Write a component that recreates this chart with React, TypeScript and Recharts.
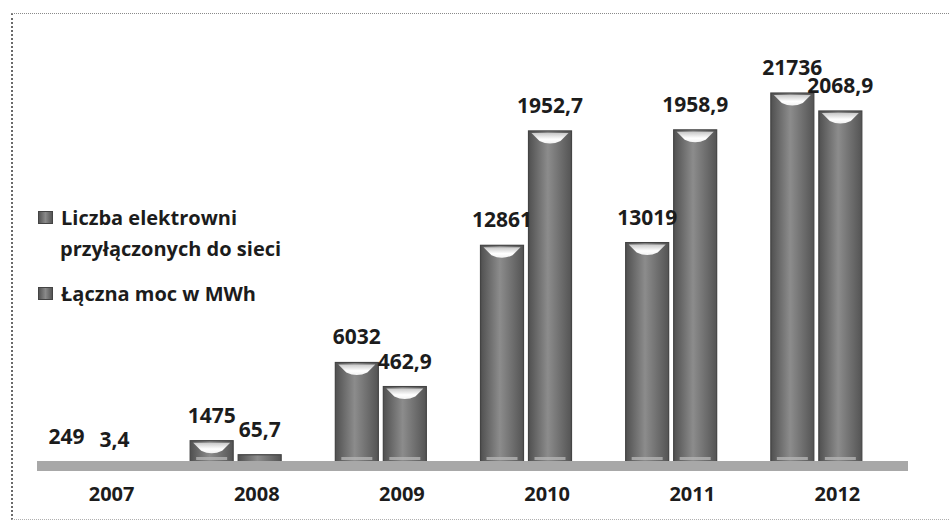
import { BarChart, Bar, XAxis, YAxis, LabelList } from 'recharts';

const years = ['2007', '2008', '2009', '2010', '2011', '2012'];
const liczbaElektrowni = [249, 1475, 6032, 12861, 13019, 21736];
const lacznaMoc = [3.4, 65.7, 462.9, 1952.7, 1958.9, 2068.9];
const legendFirst = ['Liczba elektrowni', 'przyłączonych do sieci'];
const legendSecond = ['Łączna moc w MWh'];

const data = years.map((year, i) => ({
  year,
  liczba: liczbaElektrowni[i],
  moc: lacznaMoc[i],
}));

const FONT = '"Open Sans", sans-serif';
const TEXT = '#1c1c1c';
// bars in the scan sit a little left of their category (3D perspective)
const SHIFT = -19;
const FLOOR = 4;

const fmt = (v: number) => String(v).replace('.', ',');

function CylinderBar(props: any) {
  const { x, y, width, height } = props;
  const h = height - FLOOR;
  if (h <= 0) return null;
  const left = x + SHIFT;
  const w = width;
  const cap = Math.min(13, h);
  return (
    <g>
      <rect x={left} y={y} width={w} height={h} fill="url(#barBody)" stroke="#444" strokeWidth={1.2} />
      {h > 8 && (
        <path
          d={`M${left + 3},${y + 2} L${left + w - 3},${y + 2} L${left + w - 11},${y + cap - 3} Q${left + w / 2},${y + cap + 2} ${left + 11},${y + cap - 3} Z`}
          fill="url(#barCap)"
        />
      )}
      {h > 14 && <rect x={left + 6} y={y + h - 5} width={w - 12} height={3} fill="#b4b4b4" opacity={0.8} />}
    </g>
  );
}

function ValueLabel(props: any) {
  const { x, y, width, value } = props;
  return (
    <text
      x={x + width / 2 + SHIFT}
      y={y - 18}
      textAnchor="middle"
      fontFamily={FONT}
      fontWeight={700}
      fontSize={21}
      fill={TEXT}
    >
      {fmt(value)}
    </text>
  );
}

function YearTick(props: any) {
  const { x, y, payload } = props;
  return (
    <text x={x + 2} y={y} dy="0.71em" textAnchor="middle" fontFamily={FONT} fontWeight={700} fontSize={20} fill={TEXT}>
      {payload.value}
    </text>
  );
}

function Marker() {
  return (
    <span
      style={{
        display: 'inline-block',
        width: 13,
        height: 11,
        background: 'linear-gradient(90deg, #555 0%, #8a8a8a 50%, #555 100%)',
        border: '1px solid #444',
        marginRight: 8,
        verticalAlign: 'middle',
        position: 'relative',
        top: -2,
      }}
    />
  );
}

export default function App() {
  return (
    <div style={{ position: 'absolute', left: 0, top: 0, width: 949, height: 521, background: '#fff', overflow: 'hidden' }}>
      <div
        style={{
          position: 'absolute',
          left: 11,
          top: 13,
          width: 960,
          height: 505,
          borderLeft: '2px dotted #6a6a6a',
          borderTop: '1px dotted #8a8a8a',
          borderBottom: '1px dotted #b0b0b0',
        }}
      />
      <BarChart
        width={949}
        height={521}
        data={data}
        margin={{ top: 37, right: 41, bottom: 0, left: 37 }}
        barSize={43}
        barGap={5}
        style={{ position: 'absolute', left: 0, top: 0 }}
      >
        <defs>
          <linearGradient id="barBody" x1="0" y1="0" x2="1" y2="0">
            <stop offset="0%" stopColor="#505050" />
            <stop offset="45%" stopColor="#8c8c8c" />
            <stop offset="100%" stopColor="#545454" />
          </linearGradient>
          <linearGradient id="barCap" x1="0" y1="0" x2="0" y2="1">
            <stop offset="0%" stopColor="#c8c8c8" />
            <stop offset="60%" stopColor="#ffffff" />
            <stop offset="100%" stopColor="#f2f2f2" />
          </linearGradient>
        </defs>
        <YAxis yAxisId="l" domain={[0, 25000]} width={0} tick={false} tickLine={false} axisLine={{ stroke: '#e2e2e2', strokeDasharray: '2 3' }} />
        <YAxis
          yAxisId="r"
          orientation="right"
          domain={[0, 2500]}
          width={0}
          tick={false}
          tickLine={false}
          axisLine={{ stroke: '#dadada', strokeDasharray: '2 3' }}
        />
        <Bar yAxisId="l" dataKey="liczba" shape={<CylinderBar />} isAnimationActive={false}>
          <LabelList dataKey="liczba" content={<ValueLabel />} />
        </Bar>
        <Bar yAxisId="r" dataKey="moc" shape={<CylinderBar />} isAnimationActive={false}>
          <LabelList dataKey="moc" content={<ValueLabel />} />
        </Bar>
        <XAxis
          dataKey="year"
          height={55}
          tickLine={false}
          tickMargin={15}
          axisLine={{ stroke: '#a8a8a8', strokeWidth: 10 }}
          tick={<YearTick />}
          interval={0}
        />
      </BarChart>
      <div
        style={{
          position: 'absolute',
          left: 38,
          top: 202,
          fontFamily: FONT,
          fontWeight: 700,
          fontSize: 20,
          color: TEXT,
          lineHeight: '31px',
        }}
      >
        <div>
          <Marker />
          {legendFirst[0]}
        </div>
        <div style={{ paddingLeft: 22 }}>{legendFirst[1]}</div>
        <div style={{ marginTop: 14 }}>
          <Marker />
          {legendSecond[0]}
        </div>
      </div>
    </div>
  );
}
